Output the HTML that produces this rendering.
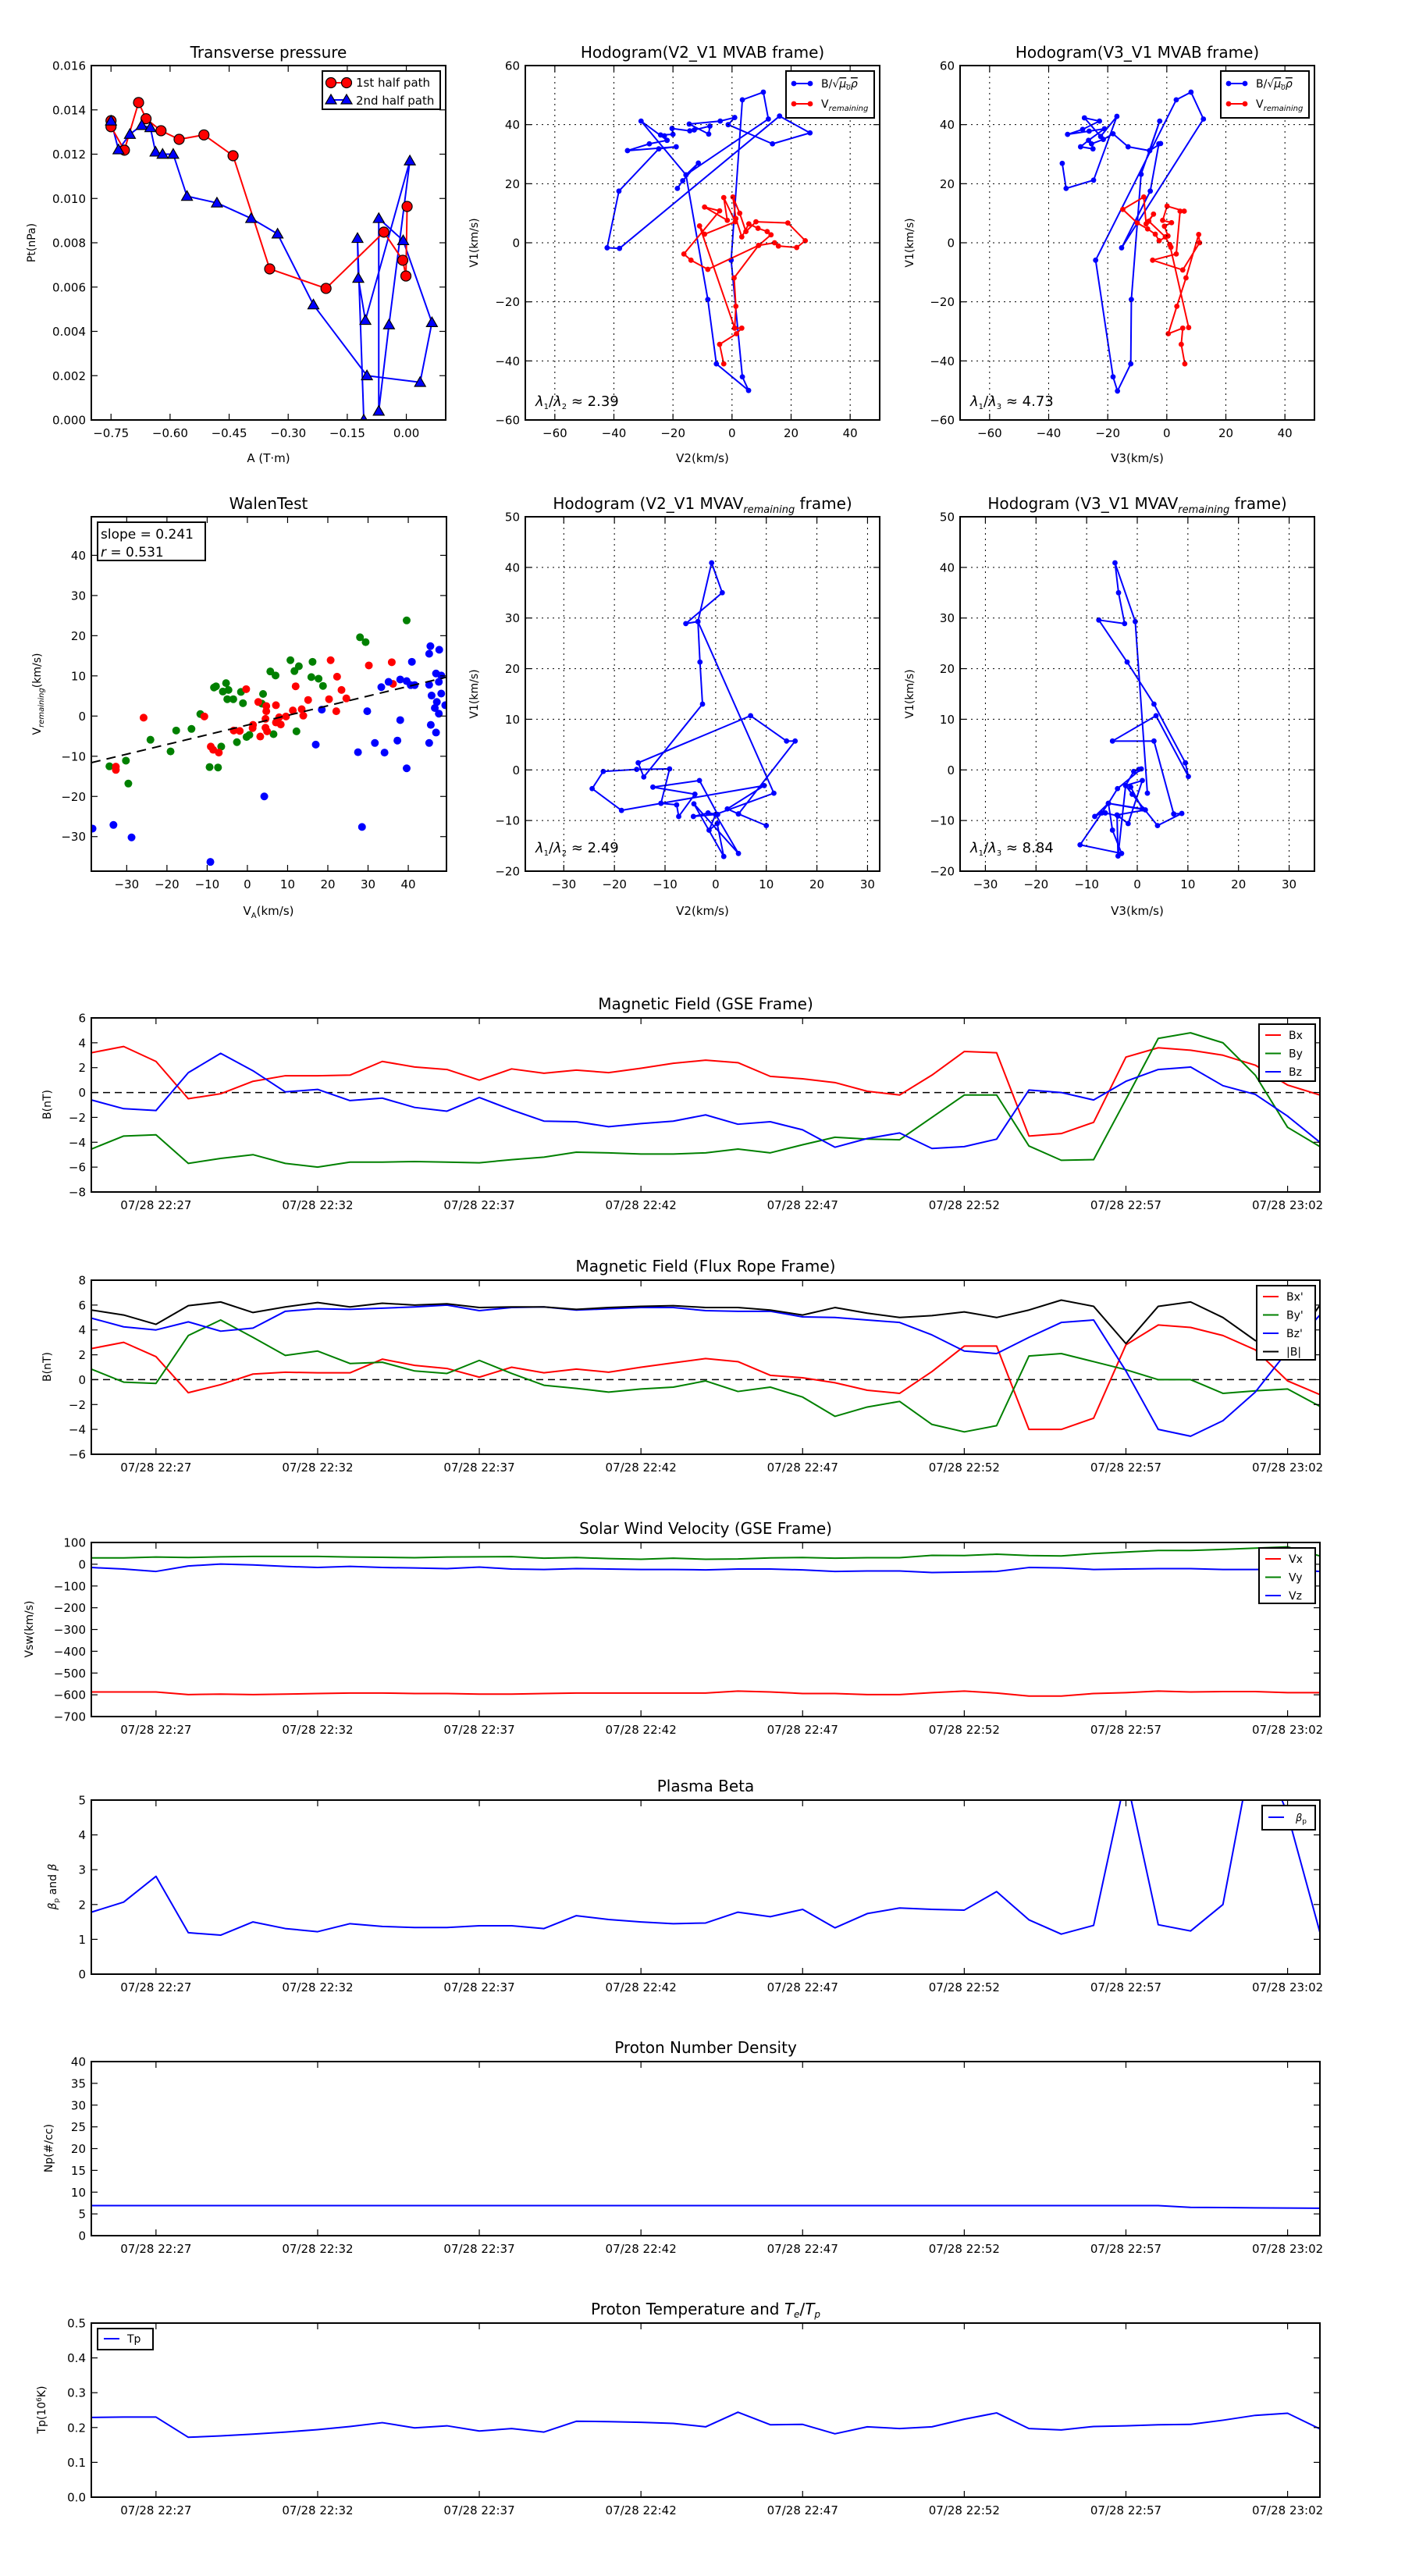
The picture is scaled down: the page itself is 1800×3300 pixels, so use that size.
<!DOCTYPE html>
<html><head><meta charset="utf-8"><title>Flux rope analysis</title>
<style>
html,body{margin:0;padding:0;background:#fff;}
svg{display:block;font-family:"DejaVu Sans","Liberation Sans",sans-serif;}
</style></head>
<body>
<svg id="fig" width="1800" height="3300" viewBox="0 0 1800 3300" xmlns="http://www.w3.org/2000/svg">
<rect x="0" y="0" width="1800" height="3300" fill="#fff"/>
<defs id="defs"></defs>
</svg>
<script>
// ---------- Transverse pressure ----------
const tpA1=[-0.75,-0.75,-0.716,-0.680,-0.661,-0.623,-0.577,-0.514,-0.440,-0.347,-0.204,-0.057,-0.009,-0.001,0.002];
const tpP1=[0.01351,0.01324,0.01218,0.01433,0.0136,0.01306,0.01267,0.01287,0.01193,0.00682,0.00594,0.00848,0.00721,0.0065,0.00964];
const tpA2=[-0.75,-0.731,-0.702,-0.672,-0.650,-0.637,-0.619,-0.592,-0.557,-0.481,-0.394,-0.327,-0.236,-0.100,0.035,0.065,-0.008,-0.070,-0.070,-0.044,0.009,-0.104,-0.122,-0.124,-0.108];
const tpP2=[0.0135,0.0122,0.0129,0.0133,0.0132,0.0121,0.0120,0.0120,0.0101,0.0098,0.0091,0.0084,0.0052,0.0020,0.0017,0.0044,0.0081,0.0091,0.0004,0.0043,0.0117,0.0045,0.0064,0.0082,0.0000];
const tpXTicks=[-0.75,-0.6,-0.45,-0.3,-0.15,0];
const tpXLabels=['−0.75','−0.60','−0.45','−0.30','−0.15','0.00'];
const tpYTicks=[0,0.002,0.004,0.006,0.008,0.010,0.012,0.014,0.016];
const tpYLabels=['0.000','0.002','0.004','0.006','0.008','0.010','0.012','0.014','0.016'];
// ---------- Hodogram V2_V1 MVAB ----------
const h1bX=[-18.5,-16.7,-11.4,-15.6,12.3,10.6,3.5,-0.3,3.5,5.6,-5.3,-8.2,-15.6,-30.8,-22.0,-28.0,-35.4,-18.9,-24.8,-38.3,-42.3,-38.1,16.1,26.4,13.7,-1.3,0.9,-4.0,-14.5,-7.9,-7.5,-12.8,-14.3,-20.3,-20.0,-24.2,-22.9,-22.0];
const h1bY=[18.4,21.0,27.0,23.0,41.9,51.0,48.4,-5.9,-45.4,-50.0,-41.0,-19.2,23.0,41.2,34.7,33.5,31.2,32.5,31.8,17.5,-1.7,-1.9,42.9,37.2,33.5,40.0,42.4,41.2,40.2,36.8,39.5,38.2,37.9,38.7,36.7,36.5,36.2,34.7];
const h1rX=[-2.8,-4.2,1.5,3.3,0.9,1.3,0.7,9.0,13.2,11.9,8.8,5.7,3.3,1.3,0.3,2.6,4.7,8.1,18.9,24.8,21.9,15.7,14.4,9.0,-8.2,-13.9,-16.3,-4.2,-9.3,-1.6,-2.8,1.1,-9.3,-11.0,0.9];
const h1rY=[-41.0,-34.4,-30.8,-28.9,-28.9,-21.5,-11.9,-0.9,2.7,3.8,4.9,6.4,2.0,8.2,15.5,10.0,3.8,7.1,6.7,0.7,-1.6,-1.1,0,-0.9,-9.0,-5.9,-3.8,10.8,12.1,7.6,15.3,7.1,2.9,5.7,-28.9];
// ---------- Hodogram V3_V1 MVAB ----------
const h2bX=[-35.4,-34.1,-24.8,-16.9,-22.4,-27.9,-22.8,-28.5,-33.6,-26.3,-21.1,-26.5,-29.2,-25.0,-25.5,-21.5,-18.2,-13.1,-5.8,-2.4,-8.7,-12.0,-12.2,-16.7,-18.2,-24.1,3.2,8.2,12.4,-15.3,-5.6,-2.7,-2.1,-5.8];
const h2bY=[26.9,18.4,21.2,42.8,36.0,42.3,41.2,38.4,36.7,37.8,38.6,34.7,32.5,31.8,33.5,35.0,36.9,32.5,31.2,41.2,23.2,-19.2,-41.0,-50.2,-45.4,-5.9,48.4,51.0,41.9,-1.7,17.5,33.5,33.6,31.2];
const h2rX=[6.1,4.9,5.4,0.5,3.4,6.5,10.8,11.1,5.4,-4.8,3.2,4.5,5.9,0.1,-1.4,1.6,-0.8,0.4,-2.6,-3.9,-6.5,-10.0,-14.9,-7.8,-7.0,-4.5,-6.1,-0.5,1.4,1.0,7.4];
const h2rY=[-41.0,-34.4,-28.9,-30.8,-21.5,-11.9,2.8,0,-9.2,-5.9,-3.8,10.7,10.7,12.4,7.6,6.8,5.6,2.3,0.7,2.9,4.7,6.7,11.3,15.5,6.4,9.7,7.3,2.0,-1.5,-0.6,-28.7];
// ---------- Walen test ----------
const walGX=[-34.3,-30.2,-29.6,-24.1,-19.1,-17.7,-13.9,-11.7,-9.4,-7.3,-8.3,-7.8,-6.5,-6.1,-5.3,-4.7,-5.0,-3.5,-2.6,-1.6,-1.1,-0.2,0.5,3.9,3.6,6.5,5.7,7.0,10.7,11.7,12.8,12.2,16.2,15.9,17.7,18.8,28.0,29.4,39.6];
const walGY=[-12.5,-11.1,-16.8,-5.9,-8.8,-3.6,-3.2,0.5,-12.7,-12.8,7.1,7.4,-7.6,6.1,8.2,6.5,4.2,4.2,-6.5,6.0,3.2,-5.2,-4.7,5.5,3.1,-4.5,11.1,10.1,13.9,11.2,12.4,-3.8,13.5,9.7,9.3,7.5,19.6,18.4,23.8];
const walRX=[-32.7,-32.7,-25.8,-10.7,-9.1,-8.5,-7.1,-3.4,-1.9,-0.3,1.4,1.3,3.2,2.7,4.7,4.7,4.5,4.5,4.9,7.1,7.1,7.9,8.3,9.6,11.3,12.0,13.5,13.9,15.1,20.3,20.7,22.3,22.1,23.4,24.6,30.2,35.9,36.2];
const walRY=[-12.6,-13.4,-0.4,-0.1,-7.6,-8.4,-9.1,-3.6,-3.7,6.7,-2.2,-3.0,-5.1,3.5,2.5,1.2,-0.7,-2.9,-3.8,2.7,-1.6,-0.3,-2.1,-0.1,1.4,7.4,1.7,0.1,4.0,4.2,13.9,9.8,1.2,6.5,4.4,12.6,13.4,8.0];
const walBX=[-38.5,-33.3,-28.8,-9.2,4.2,17.0,18.5,27.5,28.5,29.8,31.7,33.3,34.1,35.1,37.3,38.0,38.0,39.6,39.6,40.6,40.9,41.6,45.2,45.2,45.2,45.5,45.6,45.8,46.6,46.9,47.1,46.9,47.6,47.6,47.7,48.2,48.2,49.2];
const walBY=[-28.0,-27.1,-30.2,-36.3,-20.0,-7.1,1.6,-9.0,-27.6,1.2,-6.7,7.2,-9.1,8.5,-6.1,-1.0,9.1,8.7,-13.0,7.7,13.5,7.7,15.5,7.8,-6.7,17.4,-2.2,5.1,2.0,-4.1,3.5,10.6,8.5,0.6,16.5,5.6,10.1,2.7];
const walSlope=[0.241];
const walIntercept=[-2.25];
const walTicks=[-30,-20,-10,0,10,20,30,40];
const walTickLabels=['−30','−20','−10','0','10','20','30','40'];
// ---------- Hodogram V2_V1 MVAV ----------
const h3X=[10.0,4.5,2.3,9.6,-10.8,-18.6,-24.4,-22.2,-15.6,-9.1,-10.8,-7.7,-7.3,-4.1,-12.4,-3.2,0.4,-1.5,-4.4,0,4.5,-4.3,1.6,0.3,-1.3,0,11.5,-3.5,-0.8,1.3,-5.9,-3.5,-3.1,-2.6,-14.2,-15.3,6.9,14.0,15.7,4.5];
const h3Y=[-11.0,-8.7,-7.7,-3.1,-6.6,-8.0,-3.7,-0.3,0.1,0.2,-6.6,-6.9,-9.2,-4.8,-3.4,-2.1,-8.8,-8.5,-9.2,-8.8,-16.5,-6.7,-17.1,-10.6,-11.9,-8.8,-4.6,29.3,40.9,35.0,28.9,29.3,21.3,13.0,-1.4,1.4,10.7,5.7,5.7,-8.7];
// ---------- Hodogram V3_V1 MVAV ----------
const h4X=[2.0,-0.4,-4.4,-3.7,-2.5,-7.6,-2.0,3.3,9.5,10.1,3.7,-4.9,3.3,7.2,8.8,4.0,-1.0,-2.3,-3.8,-4.0,1.6,-5.7,-8.4,-7.0,-6.3,-3.8,-1.8,1.0,-2.3,-0.7,0.3,0.8,-3.9,-5.7,-11.3,-3.1,-4.9,-5.7,1.0,-1.3];
const h4Y=[-4.6,29.3,40.9,35.0,28.9,29.6,21.3,13.0,1.4,-1.3,10.7,5.7,5.7,-8.7,-8.6,-11.0,-4.8,-3.1,-17.0,-8.9,-7.9,-6.6,-9.2,-8.5,-8.5,-9.1,-10.6,-2.1,-3.1,-0.3,0.1,0.2,-3.7,-6.6,-14.8,-16.5,-11.9,-6.6,-7.7,-3.4];
// ---------- Time series (minutes after 22:25) ----------
const tMin=[0,1,2,3,4,5,6,7,8,9,10,11,12,13,14,15,16,17,18,19,20,21,22,23,24,25,26,27,28,29,30,31,32,33,34,35,36,37,38];
const timeTicks=[2,7,12,17,22,27,32,37];
const timeLabels=['07/28 22:27','07/28 22:32','07/28 22:37','07/28 22:42','07/28 22:47','07/28 22:52','07/28 22:57','07/28 23:02'];
const gseBx=[3.2,3.7,2.5,-0.5,-0.1,0.9,1.35,1.35,1.4,2.5,2.05,1.85,1.0,1.9,1.55,1.8,1.6,1.95,2.35,2.6,2.4,1.3,1.1,0.8,0.1,-0.2,1.4,3.3,3.2,-3.5,-3.3,-2.4,2.85,3.6,3.4,3.0,2.2,0.6,-0.2];
const gseBy=[-4.55,-3.5,-3.4,-5.7,-5.3,-5.0,-5.7,-6.0,-5.6,-5.6,-5.55,-5.6,-5.65,-5.4,-5.2,-4.8,-4.85,-4.95,-4.95,-4.85,-4.55,-4.85,-4.2,-3.6,-3.75,-3.8,-2.0,-0.2,-0.2,-4.3,-5.45,-5.4,-0.55,4.35,4.8,4.0,1.4,-2.8,-4.35];
const gseBz=[-0.6,-1.3,-1.45,1.6,3.15,1.75,0.05,0.25,-0.65,-0.45,-1.2,-1.5,-0.4,-1.4,-2.3,-2.35,-2.75,-2.5,-2.3,-1.8,-2.55,-2.35,-3.0,-4.4,-3.7,-3.25,-4.5,-4.35,-3.75,0.2,0,-0.6,0.9,1.85,2.05,0.55,-0.15,-1.9,-4.0];
const frBx=[2.5,3.0,1.85,-1.05,-0.4,0.45,0.6,0.55,0.55,1.65,1.15,0.9,0.2,1.0,0.55,0.85,0.6,1.0,1.35,1.7,1.45,0.35,0.15,-0.25,-0.85,-1.1,0.65,2.7,2.7,-4.0,-4.0,-3.1,2.8,4.4,4.2,3.55,2.4,-0.1,-1.2];
const frBy=[0.85,-0.2,-0.3,3.55,4.8,3.4,1.95,2.3,1.3,1.4,0.7,0.5,1.55,0.5,-0.45,-0.7,-1.0,-0.75,-0.6,-0.1,-0.95,-0.6,-1.4,-2.95,-2.2,-1.75,-3.6,-4.2,-3.7,1.9,2.1,1.45,0.8,0.0,0.0,-1.1,-0.9,-0.75,-2.15];
const frBz=[4.95,4.25,4.0,4.65,3.9,4.15,5.5,5.7,5.65,5.75,5.85,6.0,5.55,5.8,5.85,5.6,5.7,5.8,5.8,5.55,5.5,5.5,5.05,5.0,4.8,4.6,3.6,2.3,2.1,3.4,4.6,4.8,0.7,-4.0,-4.55,-3.3,-1.0,2.3,5.2];
const frBt=[5.6,5.2,4.45,5.95,6.25,5.4,5.85,6.2,5.85,6.15,6.0,6.1,5.8,5.85,5.85,5.65,5.8,5.9,5.95,5.8,5.8,5.6,5.2,5.8,5.35,5.0,5.15,5.45,5.0,5.6,6.4,5.9,2.9,5.9,6.25,5.0,3.15,2.25,6.0];
const vswVx=[-587,-587,-587,-599,-597,-599,-597,-594,-592,-592,-594,-594,-597,-597,-594,-592,-592,-592,-592,-592,-583,-587,-594,-594,-599,-599,-590,-583,-592,-606,-606,-594,-590,-583,-587,-585,-585,-590,-590];
const vswVy=[29,29,33,31,34,36,36,36,33,32,30,33,34,35,28,31,26,23,28,23,24,29,31,28,30,30,41,40,46,40,38,49,56,63,63,68,74,80,38];
const vswVz=[-15,-22,-33,-8,1,-3,-10,-15,-10,-15,-17,-20,-13,-22,-24,-20,-22,-24,-24,-26,-22,-22,-26,-33,-31,-31,-38,-36,-33,-15,-17,-24,-22,-20,-20,-24,-24,-22,-33];
const betaP=[1.78,2.07,2.81,1.19,1.12,1.5,1.31,1.22,1.45,1.37,1.34,1.34,1.39,1.39,1.31,1.68,1.57,1.5,1.45,1.47,1.78,1.65,1.86,1.33,1.74,1.9,1.86,1.84,2.37,1.56,1.15,1.4,5.7,1.42,1.24,2.0,6.9,4.6,1.2];
const npDens=[6.9,6.9,6.9,6.9,6.9,6.9,6.9,6.9,6.9,6.9,6.9,6.9,6.9,6.9,6.9,6.9,6.9,6.9,6.9,6.9,6.9,6.9,6.9,6.9,6.9,6.9,6.9,6.9,6.9,6.9,6.9,6.9,6.9,6.9,6.5,6.45,6.4,6.35,6.3];
const tpTemp=[0.229,0.230,0.230,0.172,0.176,0.181,0.187,0.194,0.203,0.214,0.199,0.205,0.190,0.197,0.187,0.218,0.217,0.215,0.212,0.202,0.244,0.208,0.209,0.182,0.202,0.197,0.202,0.224,0.242,0.197,0.193,0.203,0.205,0.208,0.209,0.221,0.235,0.241,0.196];

// ---------- helpers ----------
const NS='http://www.w3.org/2000/svg';
const svg=document.getElementById('fig');
const defs=document.getElementById('defs');
let clipN=0;
function el(tag,attrs,parent){const e=document.createElementNS(NS,tag);for(const k in attrs)e.setAttribute(k,attrs[k]);(parent||svg).appendChild(e);return e;}
function makeAxes(name,L,T,R,B,xmin,xmax,ymin,ymax){
  const g=el('g',{});
  
  
  const id='clip'+(clipN++);
  const cp=el('clipPath',{id:id},defs);
  el('rect',{x:L,y:T,width:R-L,height:B-T},cp);
  const dg=el('g',{'clip-path':'url(#'+id+')'},g);
  
  
  return {g,dg,L,T,R,B,sx:v=>L+(v-xmin)/(xmax-xmin)*(R-L),sy:v=>B-(v-ymin)/(ymax-ymin)*(B-T)};
}
function frame(ax){
  const r=el('rect',{x:ax.L,y:ax.T,width:ax.R-ax.L,height:ax.B-ax.T,fill:'none',stroke:'#000','stroke-width':2},ax.g);
  
  
}
function xTicks(ax,vals,labels,grid){
  vals.forEach((v,i)=>{const x=ax.sx(v);
    if(grid){const gl=el('line',{x1:x,y1:ax.T,x2:x,y2:ax.B,stroke:'#000','stroke-width':1,'stroke-dasharray':'2,5'},ax.g);
      
      }
    const t1=el('line',{x1:x,y1:ax.B,x2:x,y2:ax.B-8,stroke:'#000','stroke-width':1.2},ax.g);
    
    
    const t2=el('line',{x1:x,y1:ax.T,x2:x,y2:ax.T+8,stroke:'#000','stroke-width':1.2},ax.g);
    
    
    const tx=el('text',{x:x,y:ax.B+22,'text-anchor':'middle','font-size':15},ax.g);
    tx.textContent=labels[i];
    
    
  });
}
function yTicks(ax,vals,labels,grid){
  vals.forEach((v,i)=>{const y=ax.sy(v);
    if(grid){const gl=el('line',{x1:ax.L,y1:y,x2:ax.R,y2:y,stroke:'#000','stroke-width':1,'stroke-dasharray':'2,5'},ax.g);
      
      }
    const t1=el('line',{x1:ax.L,y1:y,x2:ax.L+8,y2:y,stroke:'#000','stroke-width':1.2},ax.g);
    
    
    const t2=el('line',{x1:ax.R,y1:y,x2:ax.R-8,y2:y,stroke:'#000','stroke-width':1.2},ax.g);
    
    
    const tx=el('text',{x:ax.L-7,y:y+5.5,'text-anchor':'end','font-size':15},ax.g);
    tx.textContent=labels[i];
    
    
  });
}
function polyline(ax,xs,ys,color,w,name){
  const d=xs.map((x,i)=>(i?'L':'M')+ax.sx(x).toFixed(2)+' '+ax.sy(ys[i]).toFixed(2)).join(' ');
  const p=el('path',{d:d,fill:'none',stroke:color,'stroke-width':w,'stroke-linejoin':'round'},ax.dg);
  
  
}
function dots(ax,xs,ys,color,r,name,edge){
  xs.forEach((x,i)=>{const c=el('circle',{cx:ax.sx(x),cy:ax.sy(ys[i]),r:r,fill:color,stroke:edge||'none','stroke-width':edge?1.2:0},ax.dg);
    
    });
}
function tris(ax,xs,ys,color,s,name){
  xs.forEach((x,i)=>{const cx=ax.sx(x),cy=ax.sy(ys[i]);
    const p=el('path',{d:`M${cx} ${cy-s}L${cx+s} ${cy+s*0.75}L${cx-s} ${cy+s*0.75}Z`,fill:color,stroke:'#000','stroke-width':1.2},ax.dg);
    
    });
}
function text(x,y,str,size,anchor,name,rot,parent){
  const t=el('text',{x:x,y:y,'font-size':size,'text-anchor':anchor||'middle'},parent);
  if(rot)t.setAttribute('transform',`rotate(-90 ${x} ${y})`);
  t.innerHTML=str;
  
  
  return t;
}
function legendBox(x,y,w,h,name){
  const r=el('rect',{x:x,y:y,width:w,height:h,fill:'#fff',stroke:'#000','stroke-width':2});
  
  
}
function legLine(x1,x2,y,color,name){
  const l=el('line',{x1:x1,y1:y,x2:x2,y2:y,stroke:color,'stroke-width':2});
  
  
}
function legDot(x,y,color,r,name,edge){
  const c=el('circle',{cx:x,cy:y,r:r,fill:color,stroke:edge||'none','stroke-width':edge?1.2:0});
  
  
}
const SUBR='<tspan font-style="italic" font-size="10" dy="4">remaining</tspan>';

// ---------- Transverse pressure ----------
(function(){
  const ax=makeAxes('transverse-pressure-chart',117,84,571,538,-0.8,0.1,0,0.016);
  polyline(ax,tpA2,tpP2,'#00f',2,'second-half-path-line');
  polyline(ax,tpA1,tpP1,'#f00',2,'first-half-path-line');
  dots(ax,tpA1,tpP1,'#f00',6.5,'first-half-point','#000');
  tris(ax,tpA2,tpP2,'#00f',7,'second-half-point');
  xTicks(ax,tpXTicks,tpXLabels,false);
  yTicks(ax,tpYTicks,tpYLabels,false);
  frame(ax);
  text(344,74,'Transverse pressure',20,'middle','chart-title');
  text(344,592,'A (T·m)',15,'middle','x-axis-title');
  text(45,311,'Pt(nPa)',14,'middle','y-axis-title',true);
  legendBox(413,91,151,49,'legend');
  legLine(424,444,106,'#f00','legend-line-1st-half'); legDot(424,106,'#f00',6.5,'legend-marker','#000'); legDot(444,106,'#f00',6.5,'legend-marker','#000');
  text(456,111,'1st half path',15,'start','legend-entry-1st-half');
  legLine(424,444,128,'#00f','legend-line-2nd-half');
  [424,444].forEach(x=>{const p=el('path',{d:`M${x} ${121}L${x+7} ${133}L${x-7} ${133}Z`,fill:'#00f',stroke:'#000','stroke-width':1.2});
    
    });
  text(456,134,'2nd half path',15,'start','legend-entry-2nd-half');
})();

// ---------- MVAB hodograms ----------
function hodoMVAB(name,L,bx,by,rx,ry,xlab,ratio){
  const ax=makeAxes(name,L,84,L+454,538,-70,50,-60,60);
  xTicks(ax,[-60,-40,-20,0,20,40],['−60','−40','−20','0','20','40'],true);
  yTicks(ax,[-60,-40,-20,0,20,40,60],['−60','−40','−20','0','20','40','60'],true);
  polyline(ax,bx,by,'#00f',2,'b-alfven-line');
  dots(ax,bx,by,'#00f',3.4,'b-alfven-point');
  polyline(ax,rx,ry,'#f00',2,'v-remaining-line');
  dots(ax,rx,ry,'#f00',3.4,'v-remaining-point');
  frame(ax);
  const lx=L+334;
  legendBox(lx,91,113,60,'legend');
  legLine(lx+10,lx+31,107,'#00f','legend-line-b'); legDot(lx+10,107,'#00f',3.4,'legend-marker'); legDot(lx+31,107,'#00f',3.4,'legend-marker');
  text(lx+45,112,'B/√<tspan text-decoration="overline" font-style="italic">μ<tspan font-size="9" dy="3">0</tspan><tspan dy="-3">ρ</tspan></tspan>',14,'start','legend-entry-b');
  legLine(lx+10,lx+31,133,'#f00','legend-line-v'); legDot(lx+10,133,'#f00',3.4,'legend-marker'); legDot(lx+31,133,'#f00',3.4,'legend-marker');
  text(lx+45,138,'V'+SUBR,14,'start','legend-entry-v-remaining');
  text(L+13,520,'<tspan font-style="italic">λ</tspan><tspan font-size="10" dy="4">1</tspan><tspan dy="-4">/</tspan><tspan font-style="italic">λ</tspan><tspan font-size="10" dy="4">'+ratio[0]+'</tspan><tspan dy="-4"> ≈ '+ratio[1]+'</tspan>',18,'start','eigenvalue-ratio');
  return ax;
}
hodoMVAB('hodogram-v2-v1-mvab',673,h1bX,h1bY,h1rX,h1rY,'V2',['2','2.39']);
text(900,74,'Hodogram(V2_V1 MVAB frame)',20,'middle','chart-title');
text(900,592,'V2(km/s)',15,'middle','x-axis-title');
text(612,311,'V1(km/s)',14,'middle','y-axis-title',true);
hodoMVAB('hodogram-v3-v1-mvab',1230,h2bX,h2bY,h2rX,h2rY,'V3',['3','4.73']);
text(1457,74,'Hodogram(V3_V1 MVAB frame)',20,'middle','chart-title');
text(1457,592,'V3(km/s)',15,'middle','x-axis-title');
text(1170,311,'V1(km/s)',14,'middle','y-axis-title',true);

// ---------- Walen test ----------
(function(){
  const ax=makeAxes('walen-test-chart',117,662,572,1116,-38.8,49.5,-38.6,49.6);
  dots(ax,walGX,walGY,'#008000',5,'walen-point-green');
  dots(ax,walRX,walRY,'#f00',5,'walen-point-red');
  dots(ax,walBX,walBY,'#00f',5,'walen-point-blue');
  const fx=[-38.8,49.5];
  const fy=fx.map(x=>walSlope[0]*x+walIntercept[0]);
  const d='M'+ax.sx(fx[0])+' '+ax.sy(fy[0])+'L'+ax.sx(fx[1])+' '+ax.sy(fy[1]);
  const fl=el('path',{d:d,stroke:'#000','stroke-width':2,'stroke-dasharray':'12,8',fill:'none'},ax.dg);
  
  
  xTicks(ax,walTicks,walTickLabels,false);
  yTicks(ax,walTicks,walTickLabels,false);
  frame(ax);
  legendBox(125,669,138,49,'fit-stats-box');
  text(129,690,'slope = 0.241',17,'start','slope-text');
  text(129,713,'<tspan font-style="italic">r</tspan> = 0.531',17,'start','r-text');
  text(344,652,'WalenTest',20,'middle','chart-title');
  text(344,1172,'V<tspan font-size="10" dy="4">A</tspan><tspan dy="-4">(km/s)</tspan>',15,'middle','x-axis-title');
  text(52,889,'V'+SUBR+'<tspan dy="-4">(km/s)</tspan>',14,'middle','y-axis-title',true);
})();

// ---------- MVAV hodograms ----------
function hodoMVAV(name,L,xs,ys,xmin,xmax,ratio){
  const ax=makeAxes(name,L,662,L+454,1116,xmin,xmax,-20,50);
  xTicks(ax,[-30,-20,-10,0,10,20,30],['−30','−20','−10','0','10','20','30'],true);
  yTicks(ax,[-20,-10,0,10,20,30,40,50],['−20','−10','0','10','20','30','40','50'],true);
  polyline(ax,xs,ys,'#00f',2,'hodogram-line');
  dots(ax,xs,ys,'#00f',3.4,'hodogram-point');
  frame(ax);
  text(L+13,1092,'<tspan font-style="italic">λ</tspan><tspan font-size="10" dy="4">1</tspan><tspan dy="-4">/</tspan><tspan font-style="italic">λ</tspan><tspan font-size="10" dy="4">'+ratio[0]+'</tspan><tspan dy="-4"> ≈ '+ratio[1]+'</tspan>',18,'start','eigenvalue-ratio');
}
hodoMVAV('hodogram-v2-v1-mvav',673,h3X,h3Y,-37.6,32.4,['2','2.49']);
text(900,652,'Hodogram (V2_V1 MVAV<tspan font-style="italic" font-size="13" dy="5">remaining</tspan><tspan dy="-5"> frame)</tspan>',20,'middle','chart-title');
text(900,1172,'V2(km/s)',15,'middle','x-axis-title');
text(612,889,'V1(km/s)',14,'middle','y-axis-title',true);
hodoMVAV('hodogram-v3-v1-mvav',1230,h4X,h4Y,-35,35,['3','8.84']);
text(1457,652,'Hodogram (V3_V1 MVAV<tspan font-style="italic" font-size="13" dy="5">remaining</tspan><tspan dy="-5"> frame)</tspan>',20,'middle','chart-title');
text(1457,1172,'V3(km/s)',15,'middle','x-axis-title');
text(1170,889,'V1(km/s)',14,'middle','y-axis-title',true);

// ---------- time series ----------
function tsAxes(name,T,ymin,ymax,yt,ylabels,title,ylab,ylabX){
  const ax=makeAxes(name,117,T,1691,T+223,0,38,ymin,ymax);
  xTicks(ax,timeTicks,timeLabels,false);
  yTicks(ax,yt,ylabels,false);
  text(904,T-11,title,20,'middle','chart-title');
  text(ylabX,T+111,ylab,14,'middle','y-axis-title',true);
  return ax;
}
function zeroLine(ax){
  const z=el('line',{x1:ax.L,y1:ax.sy(0),x2:ax.R,y2:ax.sy(0),stroke:'#000','stroke-width':1.5,'stroke-dasharray':'9,6'},ax.dg);
  
  
}
function tsLegend(x,y,w,h,items){
  legendBox(x,y,w,h,'legend');
  items.forEach((it,i)=>{const yy=y+14+i*23.5;
    legLine(x+8,x+28,yy,it[1],'legend-line-'+it[2]);
    text(x+38,yy+5,it[0],14,'start','legend-entry-'+it[2]);});
}
(function(){
  const ax=tsAxes('magnetic-field-gse-chart',1304,-8,6,[-8,-6,-4,-2,0,2,4,6],['−8','−6','−4','−2','0','2','4','6'],'Magnetic Field (GSE Frame)','B(nT)',65);
  zeroLine(ax);
  polyline(ax,tMin,gseBx,'#f00',2,'bx-line');
  polyline(ax,tMin,gseBy,'#008000',2,'by-line');
  polyline(ax,tMin,gseBz,'#00f',2,'bz-line');
  frame(ax);
  tsLegend(1613,1312,72,73,[['Bx','#f00','bx'],['By','#008000','by'],['Bz','#00f','bz']]);
})();
(function(){
  const ax=tsAxes('magnetic-field-flux-rope-chart',1640,-6,8,[-6,-4,-2,0,2,4,6,8],['−6','−4','−2','0','2','4','6','8'],'Magnetic Field (Flux Rope Frame)','B(nT)',65);
  zeroLine(ax);
  polyline(ax,tMin,frBx,'#f00',2,'bx-prime-line');
  polyline(ax,tMin,frBy,'#008000',2,'by-prime-line');
  polyline(ax,tMin,frBz,'#00f',2,'bz-prime-line');
  polyline(ax,tMin,frBt,'#000',2,'b-total-line');
  frame(ax);
  tsLegend(1610,1647,75,95,[["Bx'",'#f00','bx-prime'],["By'",'#008000','by-prime'],["Bz'",'#00f','bz-prime'],['|B|','#000','b-total']]);
})();
(function(){
  const ax=tsAxes('solar-wind-velocity-chart',1976,-700,100,[-700,-600,-500,-400,-300,-200,-100,0,100],['−700','−600','−500','−400','−300','−200','−100','0','100'],'Solar Wind Velocity (GSE Frame)','Vsw(km/s)',42);
  polyline(ax,tMin,vswVx,'#f00',2,'vx-line');
  polyline(ax,tMin,vswVy,'#008000',2,'vy-line');
  polyline(ax,tMin,vswVz,'#00f',2,'vz-line');
  frame(ax);
  tsLegend(1613,1983,72,71,[['Vx','#f00','vx'],['Vy','#008000','vy'],['Vz','#00f','vz']]);
})();
(function(){
  const ax=tsAxes('plasma-beta-chart',2306,0,5,[0,1,2,3,4,5],['0','1','2','3','4','5'],'Plasma Beta','<tspan font-style="italic">β</tspan><tspan font-size="9" dy="3">p</tspan><tspan dy="-3"> and </tspan><tspan font-style="italic">β</tspan>',72);
  polyline(ax,tMin,betaP,'#00f',2,'beta-p-line');
  frame(ax);
  legendBox(1617,2313,68,31,'legend');
  legLine(1625,1645,2328,'#00f','legend-line-beta-p');
  text(1660,2333,'<tspan font-style="italic">β</tspan><tspan font-size="9" dy="3">p</tspan>',13,'start','legend-entry-beta-p');
})();
(function(){
  const ax=tsAxes('proton-density-chart',2641,0,40,[0,5,10,15,20,25,30,35,40],['0','5','10','15','20','25','30','35','40'],'Proton Number Density','Np(#/cc)',67);
  polyline(ax,tMin,npDens,'#00f',2,'np-line');
  frame(ax);
})();
(function(){
  const ax=tsAxes('proton-temperature-chart',2976,0,0.5,[0,0.1,0.2,0.3,0.4,0.5],['0.0','0.1','0.2','0.3','0.4','0.5'],'Proton Temperature and <tspan font-style="italic">T</tspan><tspan font-size="12" dy="4" font-style="italic">e</tspan><tspan dy="-4">/</tspan><tspan font-style="italic">T</tspan><tspan font-size="12" dy="4" font-style="italic">p</tspan>','Tp(10<tspan font-size="9" dy="-5">6</tspan><tspan dy="5">K)</tspan>',58);
  polyline(ax,tMin,tpTemp,'#00f',2,'tp-line');
  frame(ax);
  legendBox(125,2983,71,27,'legend');
  legLine(133,153,2996,'#00f','legend-line-tp');
  text(163,3001,'Tp',14,'start','legend-entry-tp');
})();
</script>
</body></html>
